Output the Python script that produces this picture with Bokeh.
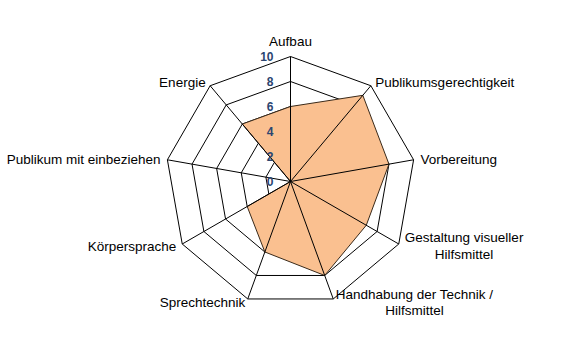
import numpy as np
from bokeh.plotting import figure
from bokeh.models import Range1d
from bokeh.core.properties import value
from bokeh.embed import file_html
from bokeh.resources import INLINE

categories = ["Aufbau", "Publikumsgerechtigkeit", "Vorbereitung",
              "Gestaltung visueller\nHilfsmittel",
              "Handhabung der Technik /\nHilfsmittel",
              "Sprechtechnik", "Körpersprache", "Publikum mit einbeziehen", "Energie"]
values = [6, 9, 8, 7, 8, 6, 4, 0, 6]
ticks = [0, 2, 4, 6, 8, 10]
tick_labels = ["0", "2", "4", "6", "8", "10"]
max_val = 10

W, H = 570, 350
cx, cy = 290, 181          # centre in figure pixels (from top-left)
ppu = 12.5                 # pixels per value unit

p = figure(width=W, height=H, output_backend="svg", toolbar_location=None,
           x_range=Range1d(-cx / ppu, (W - cx) / ppu),
           y_range=Range1d(-(H - cy) / ppu, cy / ppu),
           min_border=0)
p.axis.visible = False
p.grid.visible = False
p.outline_line_color = None
p.background_fill_color = "white"
p.border_fill_color = "white"

n = len(categories)
ang = np.deg2rad(np.arange(n) * 360.0 / n)
sx, sy = np.sin(ang), np.cos(ang)

# rings
ring_xs, ring_ys = [], []
for t in ticks[1:]:
    ring_xs.append(list(np.append(t * sx, t * sx[0])))
    ring_ys.append(list(np.append(t * sy, t * sy[0])))
p.multi_line(ring_xs, ring_ys, line_color="black", line_width=1)

# data polygon
vx = np.array(values) * sx
vy = np.array(values) * sy
p.patch(list(vx), list(vy), fill_color="#FAC090", fill_alpha=1.0,
        line_color="#3a2a1a", line_width=1)

# spokes
p.segment(x0=[0] * n, y0=[0] * n, x1=list(max_val * sx), y1=list(max_val * sy),
          line_color="black", line_width=1)

# category labels
FONT = value("Liberation Sans")
for i, lab in enumerate(categories):
    x0 = max_val * sx[i]
    y0 = max_val * sy[i]
    if abs(sx[i]) < 0.1:
        anchor = "bottom_center"
        x = x0
        y = y0 + 8 / ppu
    else:
        anchor = "center_left" if sx[i] > 0 else "center_right"
        x = x0 + 7 * sx[i] / ppu
        y = y0 + 4 * sy[i] / ppu
    p.text(x=[x], y=[y], text=[lab], anchor=value(anchor), text_align="center",
           text_font=FONT, text_font_size="13.5px", text_color="black",
           text_line_height=1.1)

# tick labels
p.text(x=[-17 / ppu] * len(ticks), y=ticks, text=tick_labels,
       text_align="right", text_baseline="middle",
       text_font=FONT, text_font_size="12px", text_font_style="bold",
       text_color="#2B4570")

open("out.html", "w").write(file_html(p, INLINE))
